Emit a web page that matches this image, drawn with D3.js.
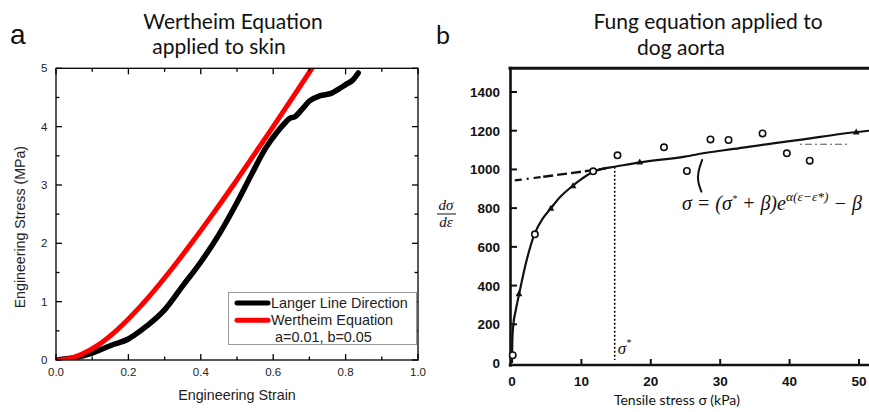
<!DOCTYPE html>
<html>
<head>
<meta charset="utf-8">
<script src="https://cdn.jsdelivr.net/npm/d3@7/dist/d3.min.js"></script>
<style>
  html, body { margin: 0; padding: 0; background: #fff; }
  svg { display: block; }
</style>
</head>
<body>
<svg id="chart" width="869" height="412"></svg>
<script>
// ---- Panel a: skin stress-strain (Langer line direction) vs Wertheim fit ----
const langerStrain = [0, 0.03, 0.06, 0.09, 0.12, 0.16, 0.20, 0.215, 0.25, 0.30, 0.35, 0.40, 0.45, 0.50, 0.54, 0.58, 0.61, 0.635, 0.645, 0.66, 0.68, 0.70, 0.73, 0.76, 0.78, 0.80, 0.82, 0.835];
const langerStress = [0, 0.02, 0.05, 0.10, 0.17, 0.27, 0.36, 0.42, 0.58, 0.86, 1.27, 1.68, 2.15, 2.70, 3.18, 3.64, 3.90, 4.08, 4.14, 4.17, 4.30, 4.44, 4.53, 4.57, 4.64, 4.72, 4.80, 4.92];
const wertheimStrain = [0, 0.032, 0.050, 0.071, 0.115, 0.166, 0.245, 0.312, 0.374, 0.433, 0.490, 0.545, 0.600, 0.654, 0.707, 0.728];
const wertheimStress = [0, 0.02, 0.05, 0.10, 0.25, 0.50, 1.00, 1.50, 2.00, 2.50, 3.00, 3.50, 4.00, 4.50, 5.00, 5.20];
const strainTicks = [0, 0.2, 0.4, 0.6, 0.8, 1.0];
const strainMinorTicks = [0.1, 0.3, 0.5, 0.7, 0.9];
const stressTicks = [0, 1, 2, 3, 4, 5];
const stressMinorTicks = [0.5, 1.5, 2.5, 3.5, 4.5];
const legendLabels = ["Langer Line Direction", "Wertheim Equation"];
const legendNote = "a=0.01, b=0.05";

// ---- Panel b: dog aorta, d(sigma)/d(epsilon) vs tensile stress ----
const fungStress = [0, 0.05, 0.2, 0.5, 1.0, 2.0, 3.2, 4.5, 5.5, 7.0, 8.6, 10.0, 11.7, 13.0, 14.8, 18.4, 24.9, 28.0, 32.0, 37.6, 42.0, 47.3, 51.5];
const fungSlope  = [0, 120, 200, 265, 352, 515, 662, 750, 795, 860, 911, 950, 988, 1003, 1014, 1036, 1066, 1086, 1106, 1135, 1155, 1183, 1200];
const openStress = [0.1, 3.3, 11.7, 15.2, 21.9, 25.2, 28.6, 31.2, 36.1, 39.6, 42.9];
const openSlope  = [40, 665, 990, 1073, 1114, 992, 1155, 1152, 1186, 1083, 1045];
const filledStress = [1.0, 5.6, 8.8, 18.4, 49.6];
const filledSlope  = [355, 797, 913, 1036, 1191];
const tangentStress = [0.4, 4.5, 13.5];
const tangentSlope  = [943, 962, 1005];
const plateauStress = [41.5, 48.3];
const plateauSlope  = [1130, 1130];
const sigmaStar = 14.8;
const sigmaStarSlope = 1014;
const bracketStress = [27.4, 26.8, 26.75, 27.3];
const bracketSlope  = [1049, 990, 935, 885];
const stressTicksB = [0, 10, 20, 30, 40, 50];
const slopeTicksB = [0, 200, 400, 600, 800, 1000, 1200, 1400];

const svg = d3.select("#chart");
const sans = "'Liberation Sans', Arial, sans-serif";
const humanist = "Lato, 'Open Sans', sans-serif";
const serif = "'Liberation Serif', 'DejaVu Serif', serif";

// ======================= Panel a =======================
const xA = d3.scaleLinear().domain([0, 1]).range([56, 418]);
const yA = d3.scaleLinear().domain([0, 5]).range([360, 68.3]);

const gA = svg.append("g");

svg.append("defs").append("clipPath").attr("id", "clipA")
  .append("rect")
  .attr("x", xA(0)).attr("y", yA(5))
  .attr("width", xA(1) - xA(0)).attr("height", yA(0) - yA(5));

// curves
const lineA = d3.line().x(d => xA(d[0])).y(d => yA(d[1]));
const langer = langerStrain.map((s, i) => [s, langerStress[i]]);
const wertheim = wertheimStrain.map((s, i) => [s, wertheimStress[i]]);

const curvesA = gA.append("g").attr("clip-path", "url(#clipA)");
curvesA.append("path").datum(langer)
  .attr("d", lineA.curve(d3.curveMonotoneX))
  .attr("fill", "none").attr("stroke", "#000").attr("stroke-width", 5.5)
  .attr("stroke-linejoin", "round").attr("stroke-linecap", "round");
curvesA.append("path").datum(wertheim)
  .attr("d", lineA.curve(d3.curveMonotoneX))
  .attr("fill", "none").attr("stroke", "#ff0000").attr("stroke-width", 5)
  .attr("stroke-linejoin", "round").attr("stroke-linecap", "round");

// boxed frame with inward ticks on all four sides
const frameA = gA.append("g").attr("stroke", "#000").attr("stroke-width", 1.3);
frameA.append("rect")
  .attr("x", xA(0)).attr("y", yA(5))
  .attr("width", xA(1) - xA(0)).attr("height", yA(0) - yA(5))
  .attr("fill", "none");

function tickSet(values, len, axis) {
  values.forEach(v => {
    if (axis === "x") {
      const x = xA(v);
      frameA.append("line").attr("x1", x).attr("x2", x).attr("y1", yA(0)).attr("y2", yA(0) - len);
      frameA.append("line").attr("x1", x).attr("x2", x).attr("y1", yA(5)).attr("y2", yA(5) + len);
    } else {
      const y = yA(v);
      frameA.append("line").attr("x1", xA(0)).attr("x2", xA(0) + len).attr("y1", y).attr("y2", y);
      frameA.append("line").attr("x1", xA(1)).attr("x2", xA(1) - len).attr("y1", y).attr("y2", y);
    }
  });
}
tickSet(strainTicks, 6, "x");
tickSet(strainMinorTicks, 3.5, "x");
tickSet(stressTicks, 6, "y");
tickSet(stressMinorTicks, 3.5, "y");

gA.selectAll("text.xt").data(strainTicks).join("text")
  .attr("x", d => xA(d)).attr("y", 375.5)
  .attr("text-anchor", "middle")
  .style("font-family", sans).style("font-size", "11.5px").attr("fill", "#222")
  .text(d => d3.format(".1f")(d));
gA.selectAll("text.yt").data(stressTicks).join("text")
  .attr("x", 47.5).attr("y", d => yA(d) + 4)
  .attr("text-anchor", "end")
  .style("font-family", sans).style("font-size", "11.5px").attr("fill", "#222")
  .text(d => d);

gA.append("text").attr("x", 237).attr("y", 400)
  .attr("text-anchor", "middle")
  .style("font-family", sans).style("font-size", "14.3px").attr("fill", "#222")
  .text("Engineering Strain");
gA.append("text")
  .attr("transform", `translate(25,${(yA(0) + yA(5)) / 2 + 13}) rotate(-90)`)
  .attr("text-anchor", "middle")
  .style("font-family", sans).style("font-size", "14.2px").attr("fill", "#222")
  .text("Engineering Stress (MPa)");

// legend
const leg = gA.append("g");
leg.append("rect").attr("x", 228.5).attr("y", 292.5).attr("width", 188).attr("height", 52)
  .attr("fill", "#fff").attr("stroke", "#999").attr("stroke-width", 1);
const legColors = ["#000", "#ff0000"];
legendLabels.forEach((lab, i) => {
  const y = 303 + i * 17.3;
  leg.append("line").attr("x1", 237).attr("x2", 268).attr("y1", y).attr("y2", y)
    .attr("stroke", legColors[i]).attr("stroke-width", 5).attr("stroke-linecap", "round");
  leg.append("text").attr("x", 271).attr("y", y + 5)
    .style("font-family", sans).style("font-size", "14.4px").attr("fill", "#222")
    .text(lab);
});
leg.append("text").attr("x", 275).attr("y", 342)
  .style("font-family", sans).style("font-size", "14.4px").attr("fill", "#222")
  .text(legendNote);

// titles
gA.append("text").attr("x", 233).attr("y", 28.5).attr("text-anchor", "middle")
  .style("font-family", humanist).style("font-size", "21px").attr("fill", "#111")
  .text("Wertheim Equation");
gA.append("text").attr("x", 219).attr("y", 54).attr("text-anchor", "middle")
  .style("font-family", humanist).style("font-size", "21px").attr("fill", "#111")
  .text("applied to skin");
gA.append("text").attr("x", 10).attr("y", 43.5)
  .style("font-family", sans).style("font-size", "28px").attr("fill", "#111")
  .text("a");

// ======================= Panel b =======================
const xB = d3.scaleLinear().domain([0, 50]).range([512, 859]);
const yB = d3.scaleLinear().domain([0, 1400]).range([363, 92]);
const gB = svg.append("g");

// frame: thick scanned-style lines on left, top and bottom
const frameB = gB.append("g").attr("stroke", "#111").attr("stroke-linecap", "square");
frameB.append("line").attr("x1", 510.5).attr("x2", 510.5).attr("y1", 68).attr("y2", 365.5).attr("stroke-width", 2.6);
frameB.append("line").attr("x1", 510).attr("x2", 869).attr("y1", 365).attr("y2", 365).attr("stroke-width", 2.6);
frameB.append("line").attr("x1", 510).attr("x2", 869).attr("y1", 68.3).attr("y2", 68.3).attr("stroke-width", 3);

frameB.selectAll("line.yt").data(slopeTicksB.slice(1)).join("line")
  .attr("x1", 511).attr("x2", 516).attr("y1", d => yB(d)).attr("y2", d => yB(d)).attr("stroke-width", 2);
frameB.selectAll("line.xt").data(stressTicksB.slice(1)).join("line")
  .attr("x1", d => xB(d)).attr("x2", d => xB(d)).attr("y1", 365).attr("y2", 360).attr("stroke-width", 2);

gB.selectAll("text.yt").data(slopeTicksB).join("text")
  .attr("x", 500).attr("y", d => yB(d) + 5)
  .attr("text-anchor", "end")
  .style("font-family", sans).style("font-weight", "bold").style("font-size", "13.5px").attr("fill", "#111")
  .text(d => d);
gB.selectAll("text.xt").data(stressTicksB).join("text")
  .attr("x", d => xB(d)).attr("y", 386)
  .attr("text-anchor", "middle")
  .style("font-family", sans).style("font-weight", "bold").style("font-size", "13.5px").attr("fill", "#111")
  .text(d => d);

// fitted curve
const lineB = d3.line().x(d => xB(d[0])).y(d => yB(d[1]));
gB.append("path").datum(fungStress.map((s, i) => [s, fungSlope[i]]))
  .attr("d", lineB.curve(d3.curveMonotoneX))
  .attr("fill", "none").attr("stroke", "#111").attr("stroke-width", 2.2);

// tangent extension (dash-dot, then dashed)
const tan = tangentStress.map((s, i) => [s, tangentSlope[i]]);
gB.append("path").datum(tan.slice(0, 2))
  .attr("d", lineB.curve(d3.curveLinear))
  .attr("fill", "none").attr("stroke", "#111").attr("stroke-width", 2.2)
  .attr("stroke-dasharray", "7,5,2,5");
gB.append("path").datum(tan.slice(1))
  .attr("d", lineB.curve(d3.curveLinear))
  .attr("fill", "none").attr("stroke", "#111").attr("stroke-width", 2.4)
  .attr("stroke-dasharray", "10,4");

// short plateau dash-dot on the right
gB.append("path").datum(plateauStress.map((s, i) => [s, plateauSlope[i]]))
  .attr("d", lineB.curve(d3.curveLinear))
  .attr("fill", "none").attr("stroke", "#555").attr("stroke-width", 1.2)
  .attr("stroke-dasharray", "2,3,7,3");

// sigma* marker line
gB.append("line")
  .attr("x1", xB(sigmaStar)).attr("x2", xB(sigmaStar))
  .attr("y1", yB(sigmaStarSlope)).attr("y2", 360)
  .attr("stroke", "#111").attr("stroke-width", 1.6).attr("stroke-dasharray", "2,2");
const ss = gB.append("text").attr("x", xB(sigmaStar) + 3).attr("y", 354)
  .style("font-family", serif).style("font-style", "italic").style("font-size", "17px").attr("fill", "#111");
ss.append("tspan").text("σ");
ss.append("tspan").attr("dy", -8).style("font-size", "10px").text("*");

// data points
gB.selectAll("circle.open").data(openStress.map((s, i) => [s, openSlope[i]])).join("circle")
  .attr("cx", d => xB(d[0])).attr("cy", d => yB(d[1])).attr("r", 3.2)
  .attr("fill", "#fff").attr("stroke", "#111").attr("stroke-width", 1.6);
const tri = d3.symbol().type(d3.symbolTriangle).size(20);
gB.selectAll("path.filled").data(filledStress.map((s, i) => [s, filledSlope[i]])).join("path")
  .attr("transform", d => `translate(${xB(d[0])},${yB(d[1])})`)
  .attr("d", tri).attr("fill", "#111");

// hand-drawn bracket pointing at the fit
gB.append("path").datum(bracketStress.map((s, i) => [s, bracketSlope[i]]))
  .attr("d", lineB.curve(d3.curveBasis))
  .attr("fill", "none").attr("stroke", "#111").attr("stroke-width", 2).attr("stroke-linecap", "round");

// fit equation
const eq = gB.append("text").attr("x", 682).attr("y", 210)
  .style("font-family", serif).style("font-style", "italic").style("font-size", "20px").attr("fill", "#111");
eq.append("tspan").text("σ = (σ");
eq.append("tspan").attr("dy", -8).style("font-size", "10px").text("*");
eq.append("tspan").attr("dy", 8).text(" + β)e");
eq.append("tspan").attr("dy", -9).style("font-size", "13.5px").text("α(ε−ε*)");
eq.append("tspan").attr("dy", 9).text(" − β");

// y-axis label as a fraction
const fr = gB.append("g").style("font-family", serif).style("font-style", "italic").style("font-size", "15px").attr("fill", "#111");
fr.append("text").attr("x", 446).attr("y", 209.5).attr("text-anchor", "middle").text("dσ");
fr.append("line").attr("x1", 437).attr("x2", 456).attr("y1", 214).attr("y2", 214).attr("stroke", "#111").attr("stroke-width", 1);
fr.append("text").attr("x", 446).attr("y", 227).attr("text-anchor", "middle").text("dε");

gB.append("text").attr("x", 677).attr("y", 405).attr("text-anchor", "middle")
  .style("font-family", humanist).style("font-size", "14px").attr("fill", "#111")
  .text("Tensile stress σ (kPa)");

// titles
gB.append("text").attr("x", 708).attr("y", 29).attr("text-anchor", "middle")
  .style("font-family", humanist).style("font-size", "21px").attr("fill", "#111")
  .text("Fung equation applied to");
gB.append("text").attr("x", 681).attr("y", 55).attr("text-anchor", "middle")
  .style("font-family", humanist).style("font-size", "21px").attr("fill", "#111")
  .text("dog aorta");
gB.append("text").attr("x", 436).attr("y", 43.5)
  .style("font-family", humanist).style("font-size", "25px").attr("fill", "#111")
  .text("b");
</script>
</body>
</html>
